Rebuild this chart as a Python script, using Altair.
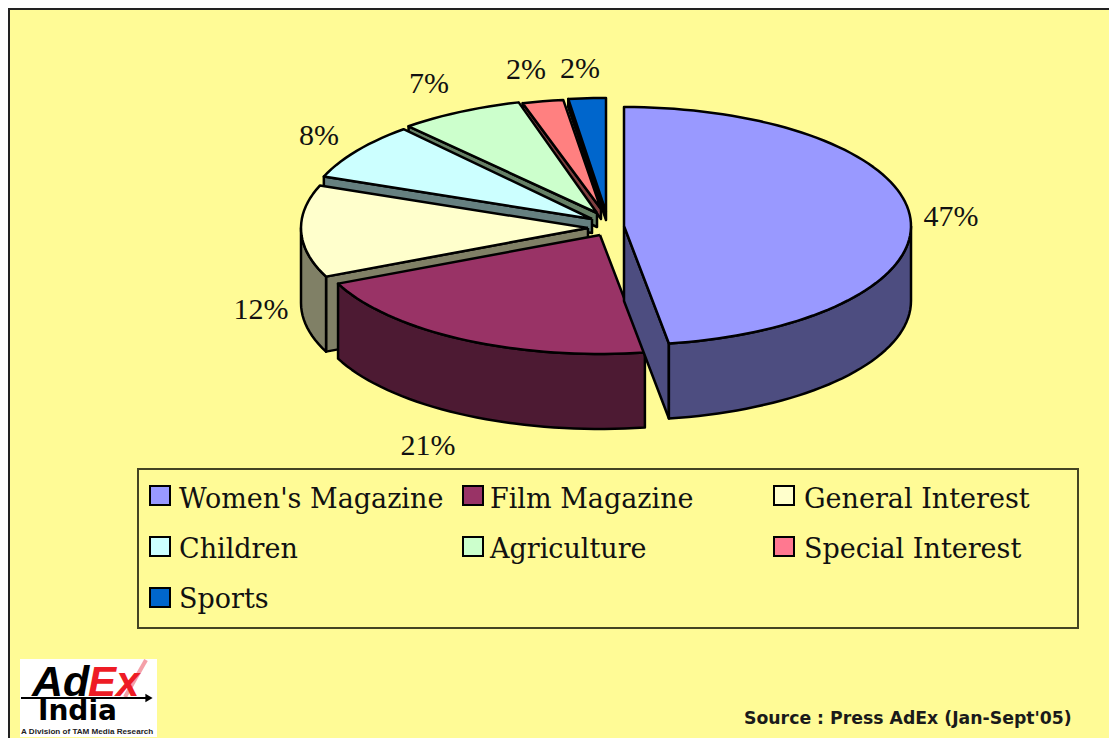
import math
import altair as alt
import pandas as pd

# ---- data ----
categories = ["Women's Magazine", "Film Magazine", "General Interest", "Children",
              "Agriculture", "Special Interest", "Sports"]
shares = [47.5, 20.8, 12.5, 7.8, 7.0, 2.3, 2.1]
labels = ["47%", "21%", "12%", "8%", "7%", "2%", "2%"]
top_colors = ["#9999FF", "#993366", "#FFFFCC", "#CCFFFF", "#CCFFCC", "#FF8080", "#0066CC"]
side_colors = ["#4D4D80", "#4D1A33", "#808066", "#668080", "#668066", "#804040", "#003366"]
legend_swatches = ["#9999FF", "#993366", "#FFFFCC", "#CCFFFF", "#CCFFCC", "#FF7890", "#0066CC"]

# ---- layout (page pixels) ----
W, H = 1101, 730
BG = "#FFFB96"
apex_x = [624, 600, 588, 592, 597, 601, 606]
apex_y = [226, 235, 228, 219, 213, 209, 212]
radius_y = [119, 119, 119, 119, 115, 110, 114]
RX, DEPTH = 287, 75
wall_side = ["end", None, "start", "start", "start", "start", "start"]
wall_drop = [75, 0, 75, 14, 14, 10, 8]
label_x = [951, 428, 261, 319, 429, 526, 580]
label_y = [217, 446, 310, 136, 84, 70, 69]
sw_x = [150, 463, 774, 150, 463, 774, 150]
sw_y = [486, 486, 486, 537, 537, 537, 588]
txt_x = [179, 490, 804, 179, 490, 804, 179]
txt_y = [508, 508, 508, 558, 558, 558, 608]

xs = alt.Scale(domain=[8, 8 + W], range=[0, W])
ys = alt.Scale(domain=[8 + H, 8], range=[H, 0])
X = lambda f="x": alt.X(f"{f}:Q", scale=xs, axis=None)
Y = lambda f="y": alt.Y(f"{f}:Q", scale=ys, axis=None)


def pt(i, deg, drop=0):
    a = math.radians(deg)
    return apex_x[i] + RX * math.sin(a), apex_y[i] - radius_y[i] * math.cos(a) + drop


def arc(i, a, b):
    n = max(2, int(abs(b - a) / 2) + 1)
    return [pt(i, a + (b - a) * k / (n - 1)) for k in range(n)]


polys = []


def add(points, fill):
    pid = len(polys)
    polys.append((pid, points + [points[0]], fill))


starts, acc = [], 0.0
for s in shares:
    starts.append(acc)
    acc += s * 3.6

for i in range(len(categories) - 1, -1, -1):
    a, b = starts[i], starts[i] + shares[i] * 3.6
    o = (apex_x[i], apex_y[i])
    if wall_side[i]:
        ang = a if wall_side[i] == "start" else b
        d = wall_drop[i]
        add([o, pt(i, ang), pt(i, ang, d), (o[0], o[1] + d)], side_colors[i])
    lo, hi = max(a, 90), min(b, 270)
    if lo < hi:
        rim = arc(i, lo, hi)
        add(rim + [(x, y + DEPTH) for x, y in reversed(rim)], side_colors[i])
    add([o] + arc(i, a, b), top_colors[i])

rows = []
for pid, pts, fill in polys:
    for k, (x, y) in enumerate(pts):
        rows.append({"pid": pid, "k": k, "x": x, "y": y, "fill": fill})
poly_df = pd.DataFrame(rows)

pie = alt.Chart(poly_df).mark_line(strokeWidth=2.5, strokeJoin="round", color="black").encode(
    x=X(), y=Y(), order="k:Q", detail="pid:N",
    fill=alt.Fill("fill:N", scale=None), stroke=alt.value("black"))

pct = alt.Chart(pd.DataFrame({"x": label_x, "y": label_y, "t": labels})).mark_text(
    font="Liberation Serif", fontSize=30, color="#111111", align="center", baseline="middle"
).encode(x=X(), y=Y(), text="t:N")

box = alt.Chart(pd.DataFrame({"x": [138], "x2": [1078], "y": [469], "y2": [628]})).mark_rect(
    fill=BG, stroke="#444422", strokeWidth=2
).encode(x=X(), x2="x2:Q", y=Y(), y2="y2:Q")

sw_df = pd.DataFrame({"x": sw_x, "x2": [v + 20 for v in sw_x], "y": sw_y,
                      "y2": [v + 19 for v in sw_y], "c": legend_swatches})
swatches = alt.Chart(sw_df).mark_rect(stroke="black", strokeWidth=2).encode(
    x=X(), x2="x2:Q", y=Y(), y2="y2:Q", fill=alt.Fill("c:N", scale=None))

leg_txt = alt.Chart(pd.DataFrame({"x": txt_x, "y": txt_y, "t": categories})).mark_text(
    font="DejaVu Serif", fontSize=27, color="#111111", align="left", baseline="alphabetic"
).encode(x=X(), y=Y(), text="t:N")

source = alt.Chart(pd.DataFrame({"x": [744], "y": [724], "t": ["Source : Press AdEx (Jan-Sept'05)"]})).mark_text(
    font="DejaVu Sans", fontWeight="bold", fontSize=17.3, color="#1a1a1a", align="left", baseline="alphabetic"
).encode(x=X(), y=Y(), text="t:N")

# frame
frame_df = pd.DataFrame({"x": [8, 8], "x2": [8 + W, 10], "y": [8, 8], "y2": [10, 8 + H]})
frame = alt.Chart(frame_df).mark_rect(color="#222222").encode(x=X(), x2="x2:Q", y=Y(), y2="y2:Q")

# logo
logo_bg = alt.Chart(pd.DataFrame({"x": [20], "x2": [157], "y": [659], "y2": [737]})).mark_rect(
    color="white").encode(x=X(), x2="x2:Q", y=Y(), y2="y2:Q")
check = alt.Chart(pd.DataFrame({"x": [125], "y": [697], "x2": [146], "y2": [660]})).mark_rule(
    color="#F4A0A8", strokeWidth=4).encode(x=X(), y=Y(), x2="x2:Q", y2="y2:Q")


def logo_text(x, y, t, size, color, style="normal", weight="bold", font="Liberation Sans"):
    return alt.Chart(pd.DataFrame({"x": [x], "y": [y], "t": [t]})).mark_text(
        font=font, fontSize=size, fontWeight=weight, fontStyle=style,
        color=color, align="left", baseline="alphabetic").encode(x=X(), y=Y(), text="t:N")


ad = logo_text(32, 696, "Ad", 43, "black", "italic")
ex = logo_text(88, 696, "Ex", 42, "#EE1C25", "italic")
india = logo_text(38, 720, "India", 28, "black", font="DejaVu Sans")
small = logo_text(21, 734, "A Division of TAM Media Research", 8.1, "#222222")
arrow = alt.Chart(pd.DataFrame({"x": [21], "y": [698], "x2": [148]})).mark_rule(
    color="black", strokeWidth=2).encode(x=X(), x2="x2:Q", y=Y())
head = alt.Chart(pd.DataFrame({"x": [149], "y": [698]})).mark_point(
    shape="triangle-right", size=70, filled=True, color="black", opacity=1).encode(x=X(), y=Y())

chart = alt.layer(frame, pie, pct, box, swatches, leg_txt, source,
                  logo_bg, check, ad, ex, india, arrow, head, small).properties(
    width=W, height=H, background=BG, padding=0,
    autosize=alt.AutoSizeParams(type="none")
).configure_view(stroke=None).resolve_scale(x="shared", y="shared")

chart.save("out.html", embed_options={"renderer": "svg", "actions": False})
